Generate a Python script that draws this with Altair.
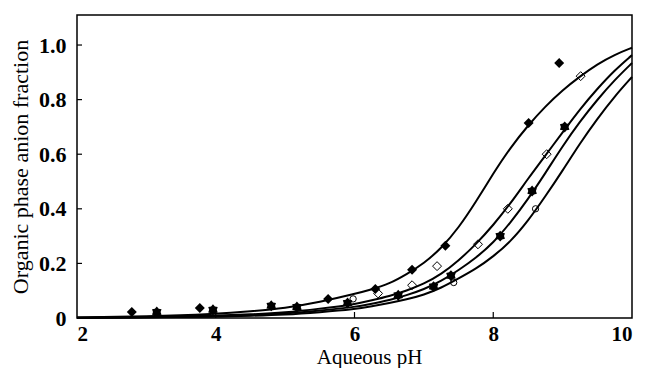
import altair as alt
import pandas as pd

# ---- curves ----
curve_x = [2, 3, 4, 4.5, 5, 5.5, 6, 6.25, 6.5, 6.75, 7, 7.25, 7.5, 7.75, 8,
           8.25, 8.5, 8.75, 9, 9.25, 9.5, 9.75, 10]
curve_1 = [0.002, 0.006, 0.015, 0.024, 0.036, 0.058, 0.088, 0.105, 0.125, 0.16, 0.2, 0.255, 0.33, 0.425, 0.53,
           0.625, 0.705, 0.775, 0.835, 0.885, 0.93, 0.965, 0.99]
curve_2 = [0.001, 0.003, 0.008, 0.013, 0.02, 0.034, 0.05, 0.065, 0.08, 0.1, 0.125, 0.16, 0.21, 0.27, 0.34,
           0.42, 0.51, 0.595, 0.68, 0.765, 0.84, 0.908, 0.963]
curve_3 = [0.001, 0.002, 0.006, 0.01, 0.016, 0.027, 0.04, 0.052, 0.065, 0.083, 0.105, 0.135, 0.175, 0.22, 0.275,
           0.35, 0.435, 0.53, 0.63, 0.72, 0.8, 0.872, 0.934]
curve_4 = [0.001, 0.002, 0.005, 0.008, 0.012, 0.021, 0.032, 0.043, 0.055, 0.068, 0.085, 0.11, 0.145, 0.18, 0.225,
           0.28, 0.355, 0.445, 0.54, 0.64, 0.73, 0.812, 0.883]

# ---- measured points ----
filled_diamond_x = [2.79, 3.77, 5.62, 6.3, 6.83, 7.31, 8.51, 8.95]
filled_diamond_y = [0.022, 0.037, 0.07, 0.106, 0.177, 0.265, 0.714, 0.934]
open_diamond_x = [6.34, 6.83, 7.19, 7.78, 8.21, 8.77, 9.26]
open_diamond_y = [0.09, 0.12, 0.19, 0.27, 0.40, 0.60, 0.886]
star_x = [3.15, 3.96, 4.8, 5.17, 5.9, 6.63, 7.14, 7.39, 8.1, 8.56, 9.03]
star_y = [0.022, 0.03, 0.045, 0.04, 0.055, 0.083, 0.115, 0.155, 0.30, 0.465, 0.70]
open_circle_x = [5.98, 7.43, 8.61]
open_circle_y = [0.07, 0.13, 0.40]

x_tick_values = [2, 4, 6, 8, 10]
y_tick_values = [0, 0.2, 0.4, 0.6, 0.8, 1.0]

W, H = 555, 303
FONT = "Liberation Serif"

curves = pd.concat([
    pd.DataFrame({"ph": curve_x, "frac": c, "curve": name})
    for name, c in [("c1", curve_1), ("c2", curve_2), ("c3", curve_3), ("c4", curve_4)]
])

xs = alt.Scale(domain=[2, 10], nice=False, zero=False)
ys = alt.Scale(domain=[0, 1.11], nice=False)

x_axis = alt.Axis(
    values=x_tick_values, title="Aqueous pH", labelFont=FONT, labelFontSize=21,
    labelFontWeight="bold", labelColor="black", labelPadding=5,
    titleFont=FONT, titleFontSize=21, titleFontWeight="normal", titleColor="black",
    titleX=292, titleY=45, titleBaseline="alphabetic")
y_axis = alt.Axis(
    values=y_tick_values, title="Organic phase anion fraction",
    labelExpr="datum.value == 0 ? '0' : format(datum.value, '.1f')",
    labelFont=FONT, labelFontSize=22, labelFontWeight="bold", labelColor="black",
    labelPadding=11, titleFont=FONT, titleFontSize=22, titleFontWeight="normal",
    titleColor="black", titleX=-50, titleY=H / 2, titleBaseline="alphabetic")

X = alt.X("ph:Q", scale=xs, axis=x_axis, title="Aqueous pH")
Y = alt.Y("frac:Q", scale=ys, axis=y_axis, title="Organic phase anion fraction")

lines = alt.Chart(curves).mark_line(color="black", strokeWidth=2, interpolate="basis").encode(
    x=X, y=Y, detail="curve:N")


def pts(xv, yv, **kw):
    df = pd.DataFrame({"ph": xv, "frac": yv})
    return alt.Chart(df).mark_point(color="black", **kw).encode(x=X, y=Y)


STAR = ("M0,-1L0.35,-0.606L0.866,-0.5L0.7,0L0.866,0.5L0.35,0.606L0,1"
        "L-0.35,0.606L-0.866,0.5L-0.7,0L-0.866,-0.5L-0.35,-0.606Z")

p_fd = pts(filled_diamond_x, filled_diamond_y, shape="diamond", filled=True, size=100, opacity=1)
p_od = pts(open_diamond_x, open_diamond_y, shape="diamond", filled=False, size=80, strokeWidth=1, opacity=1)
p_st = pts(star_x, star_y, shape=STAR, filled=True, size=120, opacity=1)
p_oc = pts(open_circle_x, open_circle_y, shape="circle", filled=False, size=40, strokeWidth=1, opacity=1)

xt = alt.Chart(pd.DataFrame({"ph": x_tick_values[1:-1]})).mark_rule(color="black", strokeWidth=1.2).encode(
    x=X, y=alt.value(H), y2=alt.value(H - 6))
yt = alt.Chart(pd.DataFrame({"frac": y_tick_values[1:]})).mark_rule(color="black", strokeWidth=1.2).encode(
    y=Y, x=alt.value(0), x2=alt.value(5))

chart = alt.layer(lines, xt, yt, p_fd, p_od, p_st, p_oc).properties(
    width=W, height=H,
    autosize=alt.AutoSizeParams(type="none"),
    padding={"left": 69, "top": 7, "right": 5, "bottom": 50},
).configure_view(stroke="black", strokeWidth=1.5).configure_axis(
    domain=False, ticks=False, grid=False
)

chart.save("out.html", embed_options={"renderer": "svg", "actions": False})
